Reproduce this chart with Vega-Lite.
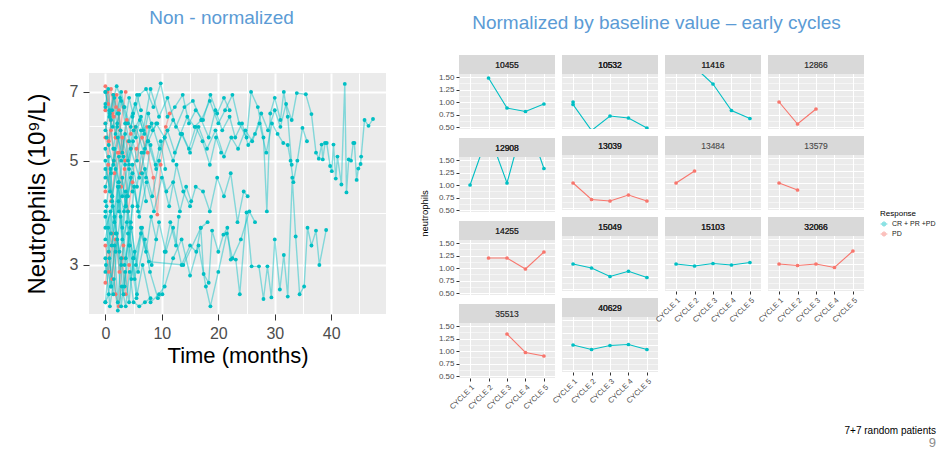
{
  "$schema": "https://vega.github.io/schema/vega-lite/v6.json",
  "background": "white",
  "padding": {"left": 25, "top": 8, "right": 5, "bottom": 0},
  "title": {
    "text": "7+7 random patients",
    "subtitle": "9\u00a0\u00a0\u00a0\u00a0",
    "orient": "bottom",
    "anchor": "end",
    "fontSize": 10,
    "fontWeight": "normal",
    "color": "black",
    "subtitleFontSize": 13,
    "subtitleColor": "#8C8C8C",
    "subtitlePadding": 1,
    "offset": 16
  },
  "datasets": {
    "raw": [
      {"pid":"R1","resp":"PD","month":0,"neut":7.2},{"pid":"R1","resp":"PD","month":0.5,"neut":6.6},{"pid":"R1","resp":"PD","month":1,"neut":7.1},{"pid":"R1","resp":"PD","month":1.5,"neut":6.2},{"pid":"R1","resp":"PD","month":2,"neut":6.9},{"pid":"R1","resp":"PD","month":2.6,"neut":5.8},{"pid":"R1","resp":"PD","month":3.2,"neut":6.5},{"pid":"R1","resp":"PD","month":3.6,"neut":7.0},
      {"pid":"R2","resp":"PD","month":0,"neut":5.6},{"pid":"R2","resp":"PD","month":0.5,"neut":5.1},{"pid":"R2","resp":"PD","month":1,"neut":5.8},{"pid":"R2","resp":"PD","month":1.5,"neut":5.0},{"pid":"R2","resp":"PD","month":2,"neut":5.6},{"pid":"R2","resp":"PD","month":2.5,"neut":5.2},{"pid":"R2","resp":"PD","month":3,"neut":5.6},{"pid":"R2","resp":"PD","month":3.5,"neut":5.0},{"pid":"R2","resp":"PD","month":4,"neut":5.5},{"pid":"R2","resp":"PD","month":4.5,"neut":5.3},
      {"pid":"R3","resp":"PD","month":0,"neut":3.3},{"pid":"R3","resp":"PD","month":0.6,"neut":2.9},{"pid":"R3","resp":"PD","month":1.2,"neut":3.5},{"pid":"R3","resp":"PD","month":1.8,"neut":2.6},{"pid":"R3","resp":"PD","month":2.4,"neut":2.45},{"pid":"R3","resp":"PD","month":3,"neut":3.1},{"pid":"R3","resp":"PD","month":3.6,"neut":2.6},{"pid":"R3","resp":"PD","month":4.2,"neut":3.0},
      {"pid":"R4","resp":"PD","month":0,"neut":4.3},{"pid":"R4","resp":"PD","month":0.5,"neut":4.9},{"pid":"R4","resp":"PD","month":1,"neut":4.1},{"pid":"R4","resp":"PD","month":1.6,"neut":4.7},{"pid":"R4","resp":"PD","month":2.2,"neut":5.2},{"pid":"R4","resp":"PD","month":2.8,"neut":4.4},{"pid":"R4","resp":"PD","month":3.4,"neut":4.8},{"pid":"R4","resp":"PD","month":4,"neut":3.9},{"pid":"R4","resp":"PD","month":4.8,"neut":4.5},{"pid":"R4","resp":"PD","month":5.5,"neut":5.3},{"pid":"R4","resp":"PD","month":6.5,"neut":5.6},{"pid":"R4","resp":"PD","month":7.5,"neut":5.2},{"pid":"R4","resp":"PD","month":8.5,"neut":4.6},{"pid":"R4","resp":"PD","month":9.2,"neut":3.84},{"pid":"R4","resp":"PD","month":9.8,"neut":4.9},{"pid":"R4","resp":"PD","month":10.7,"neut":5.9},{"pid":"R4","resp":"PD","month":11.4,"neut":6.3},
      {"pid":"R5","resp":"PD","month":0,"neut":6.0},{"pid":"R5","resp":"PD","month":0.6,"neut":5.5},{"pid":"R5","resp":"PD","month":1.2,"neut":6.3},{"pid":"R5","resp":"PD","month":1.8,"neut":5.6},{"pid":"R5","resp":"PD","month":2.4,"neut":6.4},{"pid":"R5","resp":"PD","month":3,"neut":5.2},{"pid":"R5","resp":"PD","month":3.8,"neut":6.1},{"pid":"R5","resp":"PD","month":4.5,"neut":5.7},{"pid":"R5","resp":"PD","month":5.3,"neut":5.9},{"pid":"R5","resp":"PD","month":6.3,"neut":4.7},{"pid":"R5","resp":"PD","month":7.4,"neut":5.9},
      {"pid":"R6","resp":"PD","month":0,"neut":2.75},{"pid":"R6","resp":"PD","month":0.6,"neut":3.2},{"pid":"R6","resp":"PD","month":1.2,"neut":2.8},{"pid":"R6","resp":"PD","month":1.8,"neut":3.4},{"pid":"R6","resp":"PD","month":2.5,"neut":2.9},{"pid":"R6","resp":"PD","month":3.2,"neut":3.3},
      {"pid":"R7","resp":"PD","month":0,"neut":6.4},{"pid":"R7","resp":"PD","month":0.4,"neut":7.0},{"pid":"R7","resp":"PD","month":0.9,"neut":6.1},{"pid":"R7","resp":"PD","month":1.4,"neut":6.9},{"pid":"R7","resp":"PD","month":1.9,"neut":6.5},

      {"pid":"P1","resp":"CR + PR +PD","month":0,"neut":5.3},{"pid":"P1","resp":"CR + PR +PD","month":1,"neut":4.7},{"pid":"P1","resp":"CR + PR +PD","month":2.2,"neut":5.6},{"pid":"P1","resp":"CR + PR +PD","month":3.5,"neut":4.9},{"pid":"P1","resp":"CR + PR +PD","month":5,"neut":5.8},{"pid":"P1","resp":"CR + PR +PD","month":6.3,"neut":6.2},{"pid":"P1","resp":"CR + PR +PD","month":7.6,"neut":5.5},{"pid":"P1","resp":"CR + PR +PD","month":9,"neut":6.0},{"pid":"P1","resp":"CR + PR +PD","month":10.5,"neut":5.6},{"pid":"P1","resp":"CR + PR +PD","month":12,"neut":6.1},{"pid":"P1","resp":"CR + PR +PD","month":13.3,"neut":5.7},{"pid":"P1","resp":"CR + PR +PD","month":14.5,"neut":6.2},{"pid":"P1","resp":"CR + PR +PD","month":15.8,"neut":5.9},{"pid":"P1","resp":"CR + PR +PD","month":17,"neut":6.1},{"pid":"P1","resp":"CR + PR +PD","month":18.3,"neut":5.6},{"pid":"P1","resp":"CR + PR +PD","month":19.5,"neut":6.4},{"pid":"P1","resp":"CR + PR +PD","month":20.7,"neut":5.8},{"pid":"P1","resp":"CR + PR +PD","month":22,"neut":6.2},{"pid":"P1","resp":"CR + PR +PD","month":23,"neut":5.6},{"pid":"P1","resp":"CR + PR +PD","month":24.2,"neut":6.0},{"pid":"P1","resp":"CR + PR +PD","month":25.3,"neut":5.4},{"pid":"P1","resp":"CR + PR +PD","month":26.5,"neut":5.7},{"pid":"P1","resp":"CR + PR +PD","month":27.6,"neut":6.3},{"pid":"P1","resp":"CR + PR +PD","month":28.8,"neut":5.8},{"pid":"P1","resp":"CR + PR +PD","month":30,"neut":6.4},{"pid":"P1","resp":"CR + PR +PD","month":31,"neut":5.9},{"pid":"P1","resp":"CR + PR +PD","month":32,"neut":6.6},{"pid":"P1","resp":"CR + PR +PD","month":33,"neut":6.1},{"pid":"P1","resp":"CR + PR +PD","month":33.9,"neut":6.96},{"pid":"P1","resp":"CR + PR +PD","month":35.5,"neut":6.92},{"pid":"P1","resp":"CR + PR +PD","month":36.5,"neut":6.28},{"pid":"P1","resp":"CR + PR +PD","month":37.3,"neut":5.2},{"pid":"P1","resp":"CR + PR +PD","month":37.8,"neut":5.05},{"pid":"P1","resp":"CR + PR +PD","month":38.3,"neut":5.41},{"pid":"P1","resp":"CR + PR +PD","month":38.5,"neut":5.03},{"pid":"P1","resp":"CR + PR +PD","month":38.9,"neut":5.45},{"pid":"P1","resp":"CR + PR +PD","month":39.2,"neut":5.45},{"pid":"P1","resp":"CR + PR +PD","month":39.8,"neut":4.87},{"pid":"P1","resp":"CR + PR +PD","month":40.1,"neut":4.75},{"pid":"P1","resp":"CR + PR +PD","month":40.4,"neut":5.41},{"pid":"P1","resp":"CR + PR +PD","month":40.8,"neut":4.58},{"pid":"P1","resp":"CR + PR +PD","month":41.1,"neut":5.1},{"pid":"P1","resp":"CR + PR +PD","month":41.8,"neut":4.45},{"pid":"P1","resp":"CR + PR +PD","month":42.4,"neut":7.28},{"pid":"P1","resp":"CR + PR +PD","month":42.7,"neut":4.28},{"pid":"P1","resp":"CR + PR +PD","month":43.1,"neut":5.03},{"pid":"P1","resp":"CR + PR +PD","month":43.5,"neut":5.0},{"pid":"P1","resp":"CR + PR +PD","month":43.9,"neut":5.45},{"pid":"P1","resp":"CR + PR +PD","month":44.1,"neut":5.45},{"pid":"P1","resp":"CR + PR +PD","month":44.5,"neut":4.55},{"pid":"P1","resp":"CR + PR +PD","month":44.8,"neut":4.81},{"pid":"P1","resp":"CR + PR +PD","month":45.2,"neut":4.92},{"pid":"P1","resp":"CR + PR +PD","month":45.3,"neut":5.1},{"pid":"P1","resp":"CR + PR +PD","month":45.9,"neut":6.1},{"pid":"P1","resp":"CR + PR +PD","month":46.6,"neut":5.93},{"pid":"P1","resp":"CR + PR +PD","month":47.4,"neut":6.13},

      {"pid":"P2","resp":"CR + PR +PD","month":0,"neut":3.9},{"pid":"P2","resp":"CR + PR +PD","month":1.1,"neut":3.3},{"pid":"P2","resp":"CR + PR +PD","month":2.3,"neut":4.1},{"pid":"P2","resp":"CR + PR +PD","month":3.4,"neut":3.0},{"pid":"P2","resp":"CR + PR +PD","month":4.6,"neut":3.6},{"pid":"P2","resp":"CR + PR +PD","month":5.8,"neut":2.9},{"pid":"P2","resp":"CR + PR +PD","month":7,"neut":3.4},{"pid":"P2","resp":"CR + PR +PD","month":8.2,"neut":3.0},{"pid":"P2","resp":"CR + PR +PD","month":9.5,"neut":3.7},{"pid":"P2","resp":"CR + PR +PD","month":10.7,"neut":3.2},{"pid":"P2","resp":"CR + PR +PD","month":12,"neut":3.6},{"pid":"P2","resp":"CR + PR +PD","month":13.5,"neut":3.0},{"pid":"P2","resp":"CR + PR +PD","month":15,"neut":3.3},{"pid":"P2","resp":"CR + PR +PD","month":16.1,"neut":3.2},{"pid":"P2","resp":"CR + PR +PD","month":16.9,"neut":3.6},{"pid":"P2","resp":"CR + PR +PD","month":17.4,"neut":2.87},{"pid":"P2","resp":"CR + PR +PD","month":18.3,"neut":2.75},{"pid":"P2","resp":"CR + PR +PD","month":18.9,"neut":3.55},{"pid":"P2","resp":"CR + PR +PD","month":20,"neut":3.2},{"pid":"P2","resp":"CR + PR +PD","month":20.9,"neut":3.48},{"pid":"P2","resp":"CR + PR +PD","month":21.6,"neut":3.6},{"pid":"P2","resp":"CR + PR +PD","month":22.2,"neut":3.08},{"pid":"P2","resp":"CR + PR +PD","month":23.1,"neut":3.08},{"pid":"P2","resp":"CR + PR +PD","month":23.8,"neut":2.6},{"pid":"P2","resp":"CR + PR +PD","month":25,"neut":3.88},{"pid":"P2","resp":"CR + PR +PD","month":25.9,"neut":2.98},{"pid":"P2","resp":"CR + PR +PD","month":27.2,"neut":2.98},{"pid":"P2","resp":"CR + PR +PD","month":28,"neut":2.54},{"pid":"P2","resp":"CR + PR +PD","month":28.7,"neut":2.98},{"pid":"P2","resp":"CR + PR +PD","month":29.4,"neut":2.56},{"pid":"P2","resp":"CR + PR +PD","month":30,"neut":3.4},{"pid":"P2","resp":"CR + PR +PD","month":30.9,"neut":2.66},{"pid":"P2","resp":"CR + PR +PD","month":31.6,"neut":3.15},{"pid":"P2","resp":"CR + PR +PD","month":32.3,"neut":2.57},{"pid":"P2","resp":"CR + PR +PD","month":33.1,"neut":4.6},{"pid":"P2","resp":"CR + PR +PD","month":33.7,"neut":3.45},{"pid":"P2","resp":"CR + PR +PD","month":34.4,"neut":2.6},{"pid":"P2","resp":"CR + PR +PD","month":35.2,"neut":2.7},{"pid":"P2","resp":"CR + PR +PD","month":35.8,"neut":3.6},{"pid":"P2","resp":"CR + PR +PD","month":36.5,"neut":3.3},{"pid":"P2","resp":"CR + PR +PD","month":37.3,"neut":3.55},{"pid":"P2","resp":"CR + PR +PD","month":37.9,"neut":3.0},{"pid":"P2","resp":"CR + PR +PD","month":39.1,"neut":3.56},

      {"pid":"P3","resp":"CR + PR +PD","month":0,"neut":4.4},{"pid":"P3","resp":"CR + PR +PD","month":1.5,"neut":5.0},{"pid":"P3","resp":"CR + PR +PD","month":3,"neut":4.2},{"pid":"P3","resp":"CR + PR +PD","month":4.5,"neut":5.3},{"pid":"P3","resp":"CR + PR +PD","month":6,"neut":4.6},{"pid":"P3","resp":"CR + PR +PD","month":7.5,"neut":5.5},{"pid":"P3","resp":"CR + PR +PD","month":9,"neut":4.8},{"pid":"P3","resp":"CR + PR +PD","month":10.5,"neut":5.6},{"pid":"P3","resp":"CR + PR +PD","month":12,"neut":5.0},{"pid":"P3","resp":"CR + PR +PD","month":13.5,"neut":5.7},{"pid":"P3","resp":"CR + PR +PD","month":15,"neut":5.2},{"pid":"P3","resp":"CR + PR +PD","month":16.5,"neut":5.9},{"pid":"P3","resp":"CR + PR +PD","month":18,"neut":5.3},{"pid":"P3","resp":"CR + PR +PD","month":19.5,"neut":5.8},{"pid":"P3","resp":"CR + PR +PD","month":21,"neut":5.1},{"pid":"P3","resp":"CR + PR +PD","month":22.3,"neut":5.6},{"pid":"P3","resp":"CR + PR +PD","month":23.5,"neut":5.3},{"pid":"P3","resp":"CR + PR +PD","month":24.8,"neut":5.8},{"pid":"P3","resp":"CR + PR +PD","month":26,"neut":5.5},{"pid":"P3","resp":"CR + PR +PD","month":27.3,"neut":6.0},{"pid":"P3","resp":"CR + PR +PD","month":28.5,"neut":5.2},{"pid":"P3","resp":"CR + PR +PD","month":29.5,"neut":6.0},{"pid":"P3","resp":"CR + PR +PD","month":30.5,"neut":5.7},{"pid":"P3","resp":"CR + PR +PD","month":31.5,"neut":5.45},{"pid":"P3","resp":"CR + PR +PD","month":32.3,"neut":5.4},{"pid":"P3","resp":"CR + PR +PD","month":32.8,"neut":5.0},{"pid":"P3","resp":"CR + PR +PD","month":33.3,"neut":4.5},{"pid":"P3","resp":"CR + PR +PD","month":34,"neut":5.0},{"pid":"P3","resp":"CR + PR +PD","month":34.9,"neut":5.87},{"pid":"P3","resp":"CR + PR +PD","month":35.7,"neut":5.5},

      {"pid":"P4","resp":"CR + PR +PD","month":0,"neut":6.5},{"pid":"P4","resp":"CR + PR +PD","month":1.3,"neut":5.9},{"pid":"P4","resp":"CR + PR +PD","month":2.6,"neut":6.8},{"pid":"P4","resp":"CR + PR +PD","month":4,"neut":6.0},{"pid":"P4","resp":"CR + PR +PD","month":5.3,"neut":6.6},{"pid":"P4","resp":"CR + PR +PD","month":6.7,"neut":5.8},{"pid":"P4","resp":"CR + PR +PD","month":8,"neut":7.1},{"pid":"P4","resp":"CR + PR +PD","month":9.5,"neut":6.2},{"pid":"P4","resp":"CR + PR +PD","month":11,"neut":6.8},{"pid":"P4","resp":"CR + PR +PD","month":12.5,"neut":5.9},{"pid":"P4","resp":"CR + PR +PD","month":14,"neut":6.5},{"pid":"P4","resp":"CR + PR +PD","month":15.5,"neut":6.7},{"pid":"P4","resp":"CR + PR +PD","month":17,"neut":6.1},{"pid":"P4","resp":"CR + PR +PD","month":18.5,"neut":6.7},{"pid":"P4","resp":"CR + PR +PD","month":20,"neut":6.0},{"pid":"P4","resp":"CR + PR +PD","month":21.2,"neut":6.4},{"pid":"P4","resp":"CR + PR +PD","month":22.5,"neut":6.9},{"pid":"P4","resp":"CR + PR +PD","month":23.7,"neut":6.0},{"pid":"P4","resp":"CR + PR +PD","month":25,"neut":5.6},{"pid":"P4","resp":"CR + PR +PD","month":25.8,"neut":7.0},{"pid":"P4","resp":"CR + PR +PD","month":27,"neut":6.5},{"pid":"P4","resp":"CR + PR +PD","month":28,"neut":5.6},{"pid":"P4","resp":"CR + PR +PD","month":28.6,"neut":3.9},{"pid":"P4","resp":"CR + PR +PD","month":29.2,"neut":6.3},{"pid":"P4","resp":"CR + PR +PD","month":30,"neut":6.8},{"pid":"P4","resp":"CR + PR +PD","month":31,"neut":6.1},{"pid":"P4","resp":"CR + PR +PD","month":31.6,"neut":7.0},{"pid":"P4","resp":"CR + PR +PD","month":32.3,"neut":6.2},{"pid":"P4","resp":"CR + PR +PD","month":33,"neut":4.9},

      {"pid":"P5","resp":"CR + PR +PD","month":0,"neut":3.1},{"pid":"P5","resp":"CR + PR +PD","month":1,"neut":2.7},{"pid":"P5","resp":"CR + PR +PD","month":2,"neut":3.5},{"pid":"P5","resp":"CR + PR +PD","month":3.2,"neut":2.6},{"pid":"P5","resp":"CR + PR +PD","month":4.3,"neut":3.3},{"pid":"P5","resp":"CR + PR +PD","month":5.5,"neut":2.55},{"pid":"P5","resp":"CR + PR +PD","month":6.6,"neut":3.0},{"pid":"P5","resp":"CR + PR +PD","month":8,"neut":2.5},{"pid":"P5","resp":"CR + PR +PD","month":9.5,"neut":2.6},{"pid":"P5","resp":"CR + PR +PD","month":10.5,"neut":2.7},{"pid":"P5","resp":"CR + PR +PD","month":12,"neut":3.1},{"pid":"P5","resp":"CR + PR +PD","month":13.5,"neut":3.4},{"pid":"P5","resp":"CR + PR +PD","month":15,"neut":2.85},{"pid":"P5","resp":"CR + PR +PD","month":16.5,"neut":3.3},{"pid":"P5","resp":"CR + PR +PD","month":17.8,"neut":2.7},{"pid":"P5","resp":"CR + PR +PD","month":18.6,"neut":2.45},{"pid":"P5","resp":"CR + PR +PD","month":20,"neut":2.9},{"pid":"P5","resp":"CR + PR +PD","month":21.5,"neut":3.5},{"pid":"P5","resp":"CR + PR +PD","month":22.5,"neut":3.1},{"pid":"P5","resp":"CR + PR +PD","month":24,"neut":3.4},{"pid":"P5","resp":"CR + PR +PD","month":25.5,"neut":3.9},{"pid":"P5","resp":"CR + PR +PD","month":26.5,"neut":3.7},

      {"pid":"P6","resp":"CR + PR +PD","month":0,"neut":4.8},{"pid":"P6","resp":"CR + PR +PD","month":1.2,"neut":4.2},{"pid":"P6","resp":"CR + PR +PD","month":2.4,"neut":5.1},{"pid":"P6","resp":"CR + PR +PD","month":3.6,"neut":4.0},{"pid":"P6","resp":"CR + PR +PD","month":4.8,"neut":4.7},{"pid":"P6","resp":"CR + PR +PD","month":6,"neut":3.8},{"pid":"P6","resp":"CR + PR +PD","month":7.3,"neut":4.5},{"pid":"P6","resp":"CR + PR +PD","month":8.6,"neut":3.9},{"pid":"P6","resp":"CR + PR +PD","month":10,"neut":4.6},{"pid":"P6","resp":"CR + PR +PD","month":11.3,"neut":4.0},{"pid":"P6","resp":"CR + PR +PD","month":12.6,"neut":4.9},{"pid":"P6","resp":"CR + PR +PD","month":13.8,"neut":4.3},{"pid":"P6","resp":"CR + PR +PD","month":15,"neut":4.0},{"pid":"P6","resp":"CR + PR +PD","month":16,"neut":4.4},{"pid":"P6","resp":"CR + PR +PD","month":17.3,"neut":4.3},{"pid":"P6","resp":"CR + PR +PD","month":18.5,"neut":3.9},{"pid":"P6","resp":"CR + PR +PD","month":19.8,"neut":4.6},{"pid":"P6","resp":"CR + PR +PD","month":21,"neut":4.2},{"pid":"P6","resp":"CR + PR +PD","month":22.2,"neut":4.7},{"pid":"P6","resp":"CR + PR +PD","month":23.4,"neut":3.7},{"pid":"P6","resp":"CR + PR +PD","month":24.5,"neut":4.3},{"pid":"P6","resp":"CR + PR +PD","month":25.2,"neut":4.2},

      {"pid":"P7","resp":"CR + PR +PD","month":0,"neut":7.0},{"pid":"P7","resp":"CR + PR +PD","month":0.8,"neut":6.3},{"pid":"P7","resp":"CR + PR +PD","month":2,"neut":7.2},{"pid":"P7","resp":"CR + PR +PD","month":3.3,"neut":6.5},{"pid":"P7","resp":"CR + PR +PD","month":4.5,"neut":5.9},{"pid":"P7","resp":"CR + PR +PD","month":6,"neut":6.9},{"pid":"P7","resp":"CR + PR +PD","month":7.2,"neut":7.1},{"pid":"P7","resp":"CR + PR +PD","month":8.5,"neut":6.5},{"pid":"P7","resp":"CR + PR +PD","month":9.8,"neut":7.3},{"pid":"P7","resp":"CR + PR +PD","month":11,"neut":6.2},{"pid":"P7","resp":"CR + PR +PD","month":12.3,"neut":6.5},{"pid":"P7","resp":"CR + PR +PD","month":13.7,"neut":6.9},{"pid":"P7","resp":"CR + PR +PD","month":14.8,"neut":6.0},{"pid":"P7","resp":"CR + PR +PD","month":16,"neut":6.4},{"pid":"P7","resp":"CR + PR +PD","month":17.3,"neut":6.1},{"pid":"P7","resp":"CR + PR +PD","month":18.6,"neut":6.9},{"pid":"P7","resp":"CR + PR +PD","month":19.8,"neut":6.3},{"pid":"P7","resp":"CR + PR +PD","month":21,"neut":6.8},{"pid":"P7","resp":"CR + PR +PD","month":22,"neut":6.4},

      {"pid":"P8","resp":"CR + PR +PD","month":0.2,"neut":5.6},{"pid":"P8","resp":"CR + PR +PD","month":1.4,"neut":4.9},{"pid":"P8","resp":"CR + PR +PD","month":2.7,"neut":5.8},{"pid":"P8","resp":"CR + PR +PD","month":4,"neut":5.0},{"pid":"P8","resp":"CR + PR +PD","month":5.4,"neut":5.9},{"pid":"P8","resp":"CR + PR +PD","month":6.8,"neut":5.2},{"pid":"P8","resp":"CR + PR +PD","month":8.2,"neut":6.0},{"pid":"P8","resp":"CR + PR +PD","month":9.6,"neut":5.3},{"pid":"P8","resp":"CR + PR +PD","month":11,"neut":5.8},{"pid":"P8","resp":"CR + PR +PD","month":12.3,"neut":5.2},{"pid":"P8","resp":"CR + PR +PD","month":13.6,"neut":5.7},{"pid":"P8","resp":"CR + PR +PD","month":14.8,"neut":5.3},{"pid":"P8","resp":"CR + PR +PD","month":16,"neut":5.9},{"pid":"P8","resp":"CR + PR +PD","month":17.2,"neut":5.5},{"pid":"P8","resp":"CR + PR +PD","month":18.5,"neut":4.9},{"pid":"P8","resp":"CR + PR +PD","month":19.6,"neut":5.6},{"pid":"P8","resp":"CR + PR +PD","month":20.5,"neut":5.2},

      {"pid":"P9","resp":"CR + PR +PD","month":0,"neut":3.6},{"pid":"P9","resp":"CR + PR +PD","month":1.3,"neut":4.0},{"pid":"P9","resp":"CR + PR +PD","month":2.5,"neut":3.2},{"pid":"P9","resp":"CR + PR +PD","month":3.8,"neut":3.7},{"pid":"P9","resp":"CR + PR +PD","month":5,"neut":3.1},{"pid":"P9","resp":"CR + PR +PD","month":6.3,"neut":3.5},{"pid":"P9","resp":"CR + PR +PD","month":7.7,"neut":3.05},{"pid":"P9","resp":"CR + PR +PD","month":13.8,"neut":3.0},{"pid":"P9","resp":"CR + PR +PD","month":16.9,"neut":3.6},{"pid":"P9","resp":"CR + PR +PD","month":18.1,"neut":3.7},

      {"pid":"P10","resp":"CR + PR +PD","month":0,"neut":4.1},{"pid":"P10","resp":"CR + PR +PD","month":1,"neut":3.5},{"pid":"P10","resp":"CR + PR +PD","month":2.2,"neut":4.4},{"pid":"P10","resp":"CR + PR +PD","month":3.3,"neut":3.9},{"pid":"P10","resp":"CR + PR +PD","month":4.5,"neut":4.6},{"pid":"P10","resp":"CR + PR +PD","month":5.7,"neut":4.0},{"pid":"P10","resp":"CR + PR +PD","month":7,"neut":4.8},{"pid":"P10","resp":"CR + PR +PD","month":8.3,"neut":4.2},{"pid":"P10","resp":"CR + PR +PD","month":9.5,"neut":5.0},{"pid":"P10","resp":"CR + PR +PD","month":10.8,"neut":4.3},{"pid":"P10","resp":"CR + PR +PD","month":12,"neut":4.5},{"pid":"P10","resp":"CR + PR +PD","month":13.2,"neut":3.9},{"pid":"P10","resp":"CR + PR +PD","month":14.3,"neut":4.4},{"pid":"P10","resp":"CR + PR +PD","month":15.2,"neut":4.1},

      {"pid":"P11","resp":"CR + PR +PD","month":0,"neut":2.5},{"pid":"P11","resp":"CR + PR +PD","month":0.6,"neut":2.6},{"pid":"P11","resp":"CR + PR +PD","month":1.6,"neut":3.8},{"pid":"P11","resp":"CR + PR +PD","month":2.8,"neut":3.0},{"pid":"P11","resp":"CR + PR +PD","month":4,"neut":3.9},{"pid":"P11","resp":"CR + PR +PD","month":5.2,"neut":2.8},{"pid":"P11","resp":"CR + PR +PD","month":6.5,"neut":3.6},{"pid":"P11","resp":"CR + PR +PD","month":7.9,"neut":2.9},{"pid":"P11","resp":"CR + PR +PD","month":9.3,"neut":2.55},{"pid":"P11","resp":"CR + PR +PD","month":10.1,"neut":2.6},{"pid":"P11","resp":"CR + PR +PD","month":10.5,"neut":3.2},{"pid":"P11","resp":"CR + PR +PD","month":11.5,"neut":3.7},{"pid":"P11","resp":"CR + PR +PD","month":12.5,"neut":3.3},{"pid":"P11","resp":"CR + PR +PD","month":13,"neut":3.8},

      {"pid":"S1","resp":"CR + PR +PD","month":0,"neut":7.0},{"pid":"S1","resp":"CR + PR +PD","month":0.7,"neut":6.2},{"pid":"S1","resp":"CR + PR +PD","month":1.4,"neut":6.9},{"pid":"S1","resp":"CR + PR +PD","month":2.1,"neut":5.9},{"pid":"S1","resp":"CR + PR +PD","month":2.8,"neut":6.7},{"pid":"S1","resp":"CR + PR +PD","month":3.5,"neut":6.0},{"pid":"S1","resp":"CR + PR +PD","month":4.2,"neut":6.8},{"pid":"S1","resp":"CR + PR +PD","month":4.9,"neut":6.3},{"pid":"S1","resp":"CR + PR +PD","month":5.6,"neut":6.9},{"pid":"S1","resp":"CR + PR +PD","month":6.3,"neut":6.4},
      {"pid":"S2","resp":"CR + PR +PD","month":0,"neut":2.5},{"pid":"S2","resp":"CR + PR +PD","month":0.7,"neut":3.1},{"pid":"S2","resp":"CR + PR +PD","month":1.4,"neut":2.6},{"pid":"S2","resp":"CR + PR +PD","month":2.1,"neut":3.4},{"pid":"S2","resp":"CR + PR +PD","month":2.8,"neut":2.45},{"pid":"S2","resp":"CR + PR +PD","month":3.5,"neut":2.9},{"pid":"S2","resp":"CR + PR +PD","month":4.2,"neut":2.5},{"pid":"S2","resp":"CR + PR +PD","month":4.9,"neut":3.1},{"pid":"S2","resp":"CR + PR +PD","month":5.6,"neut":2.6},
      {"pid":"S3","resp":"CR + PR +PD","month":0.2,"neut":4.0},{"pid":"S3","resp":"CR + PR +PD","month":0.9,"neut":4.8},{"pid":"S3","resp":"CR + PR +PD","month":1.6,"neut":3.7},{"pid":"S3","resp":"CR + PR +PD","month":2.3,"neut":4.5},{"pid":"S3","resp":"CR + PR +PD","month":3,"neut":3.4},{"pid":"S3","resp":"CR + PR +PD","month":3.7,"neut":4.2},{"pid":"S3","resp":"CR + PR +PD","month":4.4,"neut":3.6},{"pid":"S3","resp":"CR + PR +PD","month":5.1,"neut":4.4},{"pid":"S3","resp":"CR + PR +PD","month":5.8,"neut":3.9},{"pid":"S3","resp":"CR + PR +PD","month":6.5,"neut":4.7},{"pid":"S3","resp":"CR + PR +PD","month":7.2,"neut":4.1},
      {"pid":"S4","resp":"CR + PR +PD","month":0,"neut":6.0},{"pid":"S4","resp":"CR + PR +PD","month":0.6,"neut":5.4},{"pid":"S4","resp":"CR + PR +PD","month":1.2,"neut":6.4},{"pid":"S4","resp":"CR + PR +PD","month":1.8,"neut":5.7},{"pid":"S4","resp":"CR + PR +PD","month":2.4,"neut":6.3},{"pid":"S4","resp":"CR + PR +PD","month":3,"neut":5.2},{"pid":"S4","resp":"CR + PR +PD","month":3.6,"neut":6.0},{"pid":"S4","resp":"CR + PR +PD","month":4.2,"neut":5.5},{"pid":"S4","resp":"CR + PR +PD","month":4.8,"neut":6.2},{"pid":"S4","resp":"CR + PR +PD","month":5.4,"neut":5.6},{"pid":"S4","resp":"CR + PR +PD","month":6.1,"neut":6.1},{"pid":"S4","resp":"CR + PR +PD","month":6.9,"neut":5.7},{"pid":"S4","resp":"CR + PR +PD","month":7.6,"neut":6.3},{"pid":"S4","resp":"CR + PR +PD","month":8.4,"neut":5.8},{"pid":"S4","resp":"CR + PR +PD","month":9.2,"neut":6.0},
      {"pid":"S5","resp":"CR + PR +PD","month":0,"neut":2.9},{"pid":"S5","resp":"CR + PR +PD","month":0.5,"neut":3.6},{"pid":"S5","resp":"CR + PR +PD","month":1,"neut":2.7},{"pid":"S5","resp":"CR + PR +PD","month":1.6,"neut":3.3},{"pid":"S5","resp":"CR + PR +PD","month":2.2,"neut":2.5},{"pid":"S5","resp":"CR + PR +PD","month":2.8,"neut":3.1},{"pid":"S5","resp":"CR + PR +PD","month":3.4,"neut":2.7},{"pid":"S5","resp":"CR + PR +PD","month":4,"neut":3.5},{"pid":"S5","resp":"CR + PR +PD","month":4.6,"neut":2.8},{"pid":"S5","resp":"CR + PR +PD","month":5.2,"neut":3.2},
      {"pid":"S6","resp":"CR + PR +PD","month":0,"neut":5.0},{"pid":"S6","resp":"CR + PR +PD","month":0.8,"neut":4.3},{"pid":"S6","resp":"CR + PR +PD","month":1.6,"neut":5.3},{"pid":"S6","resp":"CR + PR +PD","month":2.4,"neut":4.5},{"pid":"S6","resp":"CR + PR +PD","month":3.2,"neut":5.1},{"pid":"S6","resp":"CR + PR +PD","month":4,"neut":4.2},{"pid":"S6","resp":"CR + PR +PD","month":4.8,"neut":4.9},{"pid":"S6","resp":"CR + PR +PD","month":5.6,"neut":4.4},{"pid":"S6","resp":"CR + PR +PD","month":6.4,"neut":5.2},{"pid":"S6","resp":"CR + PR +PD","month":7.2,"neut":4.6},{"pid":"S6","resp":"CR + PR +PD","month":8,"neut":5.4},{"pid":"S6","resp":"CR + PR +PD","month":8.9,"neut":4.9},{"pid":"S6","resp":"CR + PR +PD","month":9.8,"neut":5.5},{"pid":"S6","resp":"CR + PR +PD","month":10.6,"neut":4.8},
      {"pid":"S7","resp":"CR + PR +PD","month":0,"neut":3.4},{"pid":"S7","resp":"CR + PR +PD","month":0.9,"neut":3.9},{"pid":"S7","resp":"CR + PR +PD","month":1.8,"neut":3.2},{"pid":"S7","resp":"CR + PR +PD","month":2.7,"neut":3.8},{"pid":"S7","resp":"CR + PR +PD","month":3.6,"neut":3.1},{"pid":"S7","resp":"CR + PR +PD","month":4.5,"neut":3.7},{"pid":"S7","resp":"CR + PR +PD","month":5.4,"neut":3.0},{"pid":"S7","resp":"CR + PR +PD","month":6.3,"neut":3.6},{"pid":"S7","resp":"CR + PR +PD","month":7.2,"neut":3.2},{"pid":"S7","resp":"CR + PR +PD","month":8.1,"neut":3.8},{"pid":"S7","resp":"CR + PR +PD","month":9,"neut":3.4},
      {"pid":"S8","resp":"CR + PR +PD","month":0,"neut":6.6},{"pid":"S8","resp":"CR + PR +PD","month":0.5,"neut":7.1},{"pid":"S8","resp":"CR + PR +PD","month":1,"neut":6.1},{"pid":"S8","resp":"CR + PR +PD","month":1.6,"neut":6.8},{"pid":"S8","resp":"CR + PR +PD","month":2.2,"neut":6.3},{"pid":"S8","resp":"CR + PR +PD","month":2.8,"neut":7.0},{"pid":"S8","resp":"CR + PR +PD","month":3.4,"neut":6.5},
      {"pid":"S9","resp":"CR + PR +PD","month":0,"neut":4.6},{"pid":"S9","resp":"CR + PR +PD","month":0.6,"neut":5.1},{"pid":"S9","resp":"CR + PR +PD","month":1.2,"neut":4.1},{"pid":"S9","resp":"CR + PR +PD","month":1.8,"neut":4.8},{"pid":"S9","resp":"CR + PR +PD","month":2.4,"neut":3.9},{"pid":"S9","resp":"CR + PR +PD","month":3,"neut":4.6},{"pid":"S9","resp":"CR + PR +PD","month":3.6,"neut":4.0},{"pid":"S9","resp":"CR + PR +PD","month":4.2,"neut":4.8},{"pid":"S9","resp":"CR + PR +PD","month":4.8,"neut":4.3},
      {"pid":"S10","resp":"CR + PR +PD","month":0.1,"neut":3.0},{"pid":"S10","resp":"CR + PR +PD","month":0.8,"neut":2.45},{"pid":"S10","resp":"CR + PR +PD","month":1.5,"neut":2.8},{"pid":"S10","resp":"CR + PR +PD","month":2.2,"neut":2.4},{"pid":"S10","resp":"CR + PR +PD","month":2.9,"neut":2.7},{"pid":"S10","resp":"CR + PR +PD","month":3.6,"neut":2.45},{"pid":"S10","resp":"CR + PR +PD","month":4.3,"neut":2.9},{"pid":"S10","resp":"CR + PR +PD","month":5,"neut":2.5},{"pid":"S10","resp":"CR + PR +PD","month":6,"neut":2.45},{"pid":"S10","resp":"CR + PR +PD","month":7,"neut":2.5},{"pid":"S10","resp":"CR + PR +PD","month":8,"neut":2.55},
      {"pid":"S11","resp":"CR + PR +PD","month":0,"neut":5.8},{"pid":"S11","resp":"CR + PR +PD","month":0.7,"neut":6.4},{"pid":"S11","resp":"CR + PR +PD","month":1.4,"neut":5.3},{"pid":"S11","resp":"CR + PR +PD","month":2.1,"neut":6.0},{"pid":"S11","resp":"CR + PR +PD","month":2.8,"neut":5.0},{"pid":"S11","resp":"CR + PR +PD","month":3.5,"neut":5.7},{"pid":"S11","resp":"CR + PR +PD","month":4.2,"neut":4.9},{"pid":"S11","resp":"CR + PR +PD","month":4.9,"neut":5.5},{"pid":"S11","resp":"CR + PR +PD","month":5.6,"neut":5.0},{"pid":"S11","resp":"CR + PR +PD","month":6.3,"neut":5.8},{"pid":"S11","resp":"CR + PR +PD","month":7,"neut":5.3},{"pid":"S11","resp":"CR + PR +PD","month":7.8,"neut":5.9},
      {"pid":"S12","resp":"CR + PR +PD","month":0,"neut":3.8},{"pid":"S12","resp":"CR + PR +PD","month":0.6,"neut":3.2},{"pid":"S12","resp":"CR + PR +PD","month":1.2,"neut":4.2},{"pid":"S12","resp":"CR + PR +PD","month":1.8,"neut":3.5},{"pid":"S12","resp":"CR + PR +PD","month":2.4,"neut":4.4},{"pid":"S12","resp":"CR + PR +PD","month":3,"neut":3.6},{"pid":"S12","resp":"CR + PR +PD","month":3.6,"neut":4.3},{"pid":"S12","resp":"CR + PR +PD","month":4.2,"neut":3.3},{"pid":"S12","resp":"CR + PR +PD","month":4.8,"neut":4.0}
    ],
    "norm": [
      {"id":"10455","resp":"CR + PR +PD","cycle":"CYCLE 2","value":1.48},{"id":"10455","resp":"CR + PR +PD","cycle":"CYCLE 3","value":0.88},{"id":"10455","resp":"CR + PR +PD","cycle":"CYCLE 4","value":0.81},{"id":"10455","resp":"CR + PR +PD","cycle":"CYCLE 5","value":0.96},
      {"id":"10532","resp":"CR + PR +PD","cycle":"CYCLE 1","value":1.0},{"id":"10532","resp":"CR + PR +PD","cycle":"CYCLE 1","value":0.95},{"id":"10532","resp":"CR + PR +PD","cycle":"CYCLE 2","value":0.43},{"id":"10532","resp":"CR + PR +PD","cycle":"CYCLE 3","value":0.72},{"id":"10532","resp":"CR + PR +PD","cycle":"CYCLE 4","value":0.68},{"id":"10532","resp":"CR + PR +PD","cycle":"CYCLE 5","value":0.48},
      {"id":"11416","resp":"CR + PR +PD","cycle":"CYCLE 2","value":1.70},{"id":"11416","resp":"CR + PR +PD","cycle":"CYCLE 3","value":1.36},{"id":"11416","resp":"CR + PR +PD","cycle":"CYCLE 4","value":0.83},{"id":"11416","resp":"CR + PR +PD","cycle":"CYCLE 5","value":0.67},
      {"id":"12866","resp":"PD","cycle":"CYCLE 1","value":1.0},{"id":"12866","resp":"PD","cycle":"CYCLE 2","value":0.56},{"id":"12866","resp":"PD","cycle":"CYCLE 3","value":0.86},
      {"id":"12908","resp":"CR + PR +PD","cycle":"CYCLE 1","value":1.0},{"id":"12908","resp":"CR + PR +PD","cycle":"CYCLE 2","value":2.05},{"id":"12908","resp":"CR + PR +PD","cycle":"CYCLE 3","value":1.04},{"id":"12908","resp":"CR + PR +PD","cycle":"CYCLE 4","value":2.39},{"id":"12908","resp":"CR + PR +PD","cycle":"CYCLE 5","value":1.33},
      {"id":"13039","resp":"PD","cycle":"CYCLE 1","value":1.0},{"id":"13039","resp":"PD","cycle":"CYCLE 2","value":0.67},{"id":"13039","resp":"PD","cycle":"CYCLE 3","value":0.64},{"id":"13039","resp":"PD","cycle":"CYCLE 4","value":0.76},{"id":"13039","resp":"PD","cycle":"CYCLE 5","value":0.64},
      {"id":"13484","resp":"PD","cycle":"CYCLE 1","value":1.0},{"id":"13484","resp":"PD","cycle":"CYCLE 2","value":1.24},
      {"id":"13579","resp":"PD","cycle":"CYCLE 1","value":1.0},{"id":"13579","resp":"PD","cycle":"CYCLE 2","value":0.86},
      {"id":"14255","resp":"PD","cycle":"CYCLE 2","value":1.2},{"id":"14255","resp":"PD","cycle":"CYCLE 3","value":1.2},{"id":"14255","resp":"PD","cycle":"CYCLE 4","value":0.98},{"id":"14255","resp":"PD","cycle":"CYCLE 5","value":1.32},
      {"id":"15049","resp":"CR + PR +PD","cycle":"CYCLE 1","value":1.0},{"id":"15049","resp":"CR + PR +PD","cycle":"CYCLE 2","value":0.92},{"id":"15049","resp":"CR + PR +PD","cycle":"CYCLE 3","value":0.75},{"id":"15049","resp":"CR + PR +PD","cycle":"CYCLE 4","value":0.855},{"id":"15049","resp":"CR + PR +PD","cycle":"CYCLE 5","value":0.73},
      {"id":"15103","resp":"CR + PR +PD","cycle":"CYCLE 1","value":1.0},{"id":"15103","resp":"CR + PR +PD","cycle":"CYCLE 2","value":0.96},{"id":"15103","resp":"CR + PR +PD","cycle":"CYCLE 3","value":1.01},{"id":"15103","resp":"CR + PR +PD","cycle":"CYCLE 4","value":0.98},{"id":"15103","resp":"CR + PR +PD","cycle":"CYCLE 5","value":1.03},
      {"id":"32066","resp":"PD","cycle":"CYCLE 1","value":1.0},{"id":"32066","resp":"PD","cycle":"CYCLE 2","value":0.97},{"id":"32066","resp":"PD","cycle":"CYCLE 3","value":1.0},{"id":"32066","resp":"PD","cycle":"CYCLE 4","value":0.93},{"id":"32066","resp":"PD","cycle":"CYCLE 5","value":1.26},
      {"id":"35513","resp":"PD","cycle":"CYCLE 3","value":1.34},{"id":"35513","resp":"PD","cycle":"CYCLE 4","value":0.97},{"id":"35513","resp":"PD","cycle":"CYCLE 5","value":0.9},
      {"id":"40629","resp":"CR + PR +PD","cycle":"CYCLE 1","value":1.0},{"id":"40629","resp":"CR + PR +PD","cycle":"CYCLE 2","value":0.91},{"id":"40629","resp":"CR + PR +PD","cycle":"CYCLE 3","value":0.99},{"id":"40629","resp":"CR + PR +PD","cycle":"CYCLE 4","value":1.01},{"id":"40629","resp":"CR + PR +PD","cycle":"CYCLE 5","value":0.91}
    ]
  },
  "spacing": 33,
  "hconcat": [
    {
      "title": {"text": "Non - normalized", "fontSize": 19, "color": "#5B9BD5", "fontWeight": "normal", "offset": 22, "anchor": "middle", "dx": 16},
      "spacing": 12,
      "vconcat": [
        {
          "width": 297,
          "height": 1,
          "view": {"fill": null, "stroke": null},
          "data": {"values": [{}]},
          "mark": {"type": "text"},
          "encoding": {"text": {"value": ""}}
        },
        {
          "data": {"name": "raw"},
          "width": 297,
          "height": 241,
          "encoding": {
            "x": {
              "field": "month", "type": "quantitative",
              "scale": {"domain": [-2.9, 49.7], "nice": false, "zero": false},
              "axis": {
                "title": "Time (months)", "titleFontSize": 22, "titlePadding": 4,
                "labelFontSize": 16, "labelPadding": 5, "tickSize": 6,
                "values": [0, 5, 10, 15, 20, 25, 30, 35, 40, 45],
                "labelExpr": "datum.value % 10 === 0 ? datum.label : ''",
                "tickOpacity": {"condition": {"test": "datum.value % 10 === 0", "value": 1}, "value": 0},
                "gridWidth": {"condition": {"test": "datum.value % 10 === 0", "value": 2}, "value": 1}
              }
            },
            "y": {
              "field": "neut", "type": "quantitative",
              "scale": {"type": "log", "domain": [2.36, 7.68], "nice": false, "zero": false},
              "axis": {
                "title": "Neutrophils (10⁹/L)", "titleFontSize": 24, "titlePadding": 20,
                "labelFontSize": 16, "labelPadding": 5, "tickSize": 6,
                "values": [3, 3.873, 5, 5.916, 7],
                "labelExpr": "(datum.value === 3 || datum.value === 5 || datum.value === 7) ? datum.label : ''",
                "tickOpacity": {"condition": {"test": "datum.value === 3 || datum.value === 5 || datum.value === 7", "value": 1}, "value": 0},
                "gridWidth": {"condition": {"test": "datum.value === 3 || datum.value === 5 || datum.value === 7", "value": 2}, "value": 1}
              }
            },
            "color": {
              "field": "resp", "type": "nominal",
              "scale": {"domain": ["CR + PR +PD", "PD"], "range": ["#00BFC4", "#F8766D"]},
              "legend": {
                "title": "Response", "orient": "none", "legendX": 791, "legendY": 155, "padding": 0,
                "symbolType": "M-1,0L1,0M-0.6,0A0.6,0.6 0 1 1 0.6,0A0.6,0.6 0 1 1 -0.6,0Z",
                "symbolSize": 49, "symbolStrokeWidth": 1,
                "encode": {"symbols": {"update": {"stroke": {"scale": "color", "field": "value"}}}}
              }
            },
            "detail": {"field": "pid"}
          },
          "layer": [
            {"mark": {"type": "line", "strokeWidth": 1.4, "opacity": 0.45, "clip": true}},
            {"mark": {"type": "point", "filled": true, "size": 15, "opacity": 1, "clip": true}}
          ]
        }
      ]
    },
    {
      "title": {"text": "Normalized by baseline value – early cycles", "fontSize": 19, "color": "#5B9BD5", "fontWeight": "normal", "offset": 22, "anchor": "middle", "dx": 15},
      "spacing": 7,
      "hconcat": [
        {
          "width": 12,
          "height": 317,
          "view": {"fill": null, "stroke": null},
          "data": {"values": [{"label": "neutrophils"}]},
          "mark": {"type": "text", "angle": 270, "fontSize": 9.5, "color": "#000000"},
          "encoding": {"text": {"field": "label"}}
        },
        {
          "spacing": -5,
          "hconcat": [
            {
              "spacing": 7,
              "vconcat": [
                {"width":96,"height":74,"data":{"name":"norm"},"transform":[{"filter":{"field":"id","equal":"10455"}}],
                 "encoding":{"x":{"field":"cycle","type":"ordinal","scale":{"type":"point","padding":0.6,"domain":["CYCLE 1","CYCLE 2","CYCLE 3","CYCLE 4","CYCLE 5"]},"axis":{"title":null,"grid":true,"gridWidth":1.1,"labels":false,"ticks":false}},
                             "y":{"field":"value","type":"quantitative","scale":{"domain":[0.46,1.94],"nice":false,"zero":false},"axis":{"title":null,"labelFontSize":8,"labelPadding":2,"tickSize":3,"format":".2f","values":[0.5,0.625,0.75,0.875,1,1.125,1.25,1.375,1.5],"labelExpr":"(datum.value * 4) % 1 === 0 ? datum.label : ''","tickOpacity":{"condition":{"test":"(datum.value * 4) % 1 === 0","value":1},"value":0},"gridWidth":{"condition":{"test":"(datum.value * 4) % 1 === 0","value":1.1},"value":0.5}}},
                             "color":{"field":"resp","type":"nominal"}},
                 "layer":[{"mark":{"type":"line","strokeWidth":1.1,"clip":true}},{"mark":{"type":"point","filled":true,"size":14,"opacity":1,"clip":true}},
                          {"mark":{"type":"rect","color":"#D9D9D9"},"encoding":{"x":null,"color":null,"y":{"datum":1.56},"y2":{"datum":1.94}}},
                          {"mark":{"type":"text","fontSize":8.5,"color":"#1A1A1A","opacity":0.5,"baseline":"middle"},"encoding":{"x":{"datum":"CYCLE 3"},"y":{"datum":1.75},"color":null,"text":{"field":"id"}}}]},
                {"width":96,"height":74,"data":{"name":"norm"},"transform":[{"filter":{"field":"id","equal":"12908"}}],
                 "encoding":{"x":{"field":"cycle","type":"ordinal","scale":{"type":"point","padding":0.6,"domain":["CYCLE 1","CYCLE 2","CYCLE 3","CYCLE 4","CYCLE 5"]},"axis":{"title":null,"grid":true,"gridWidth":1.1,"labels":false,"ticks":false}},
                             "y":{"field":"value","type":"quantitative","scale":{"domain":[0.46,1.94],"nice":false,"zero":false},"axis":{"title":null,"labelFontSize":8,"labelPadding":2,"tickSize":3,"format":".2f","values":[0.5,0.625,0.75,0.875,1,1.125,1.25,1.375,1.5],"labelExpr":"(datum.value * 4) % 1 === 0 ? datum.label : ''","tickOpacity":{"condition":{"test":"(datum.value * 4) % 1 === 0","value":1},"value":0},"gridWidth":{"condition":{"test":"(datum.value * 4) % 1 === 0","value":1.1},"value":0.5}}},
                             "color":{"field":"resp","type":"nominal"}},
                 "layer":[{"mark":{"type":"line","strokeWidth":1.1,"clip":true}},{"mark":{"type":"point","filled":true,"size":14,"opacity":1,"clip":true}},
                          {"mark":{"type":"rect","color":"#D9D9D9"},"encoding":{"x":null,"color":null,"y":{"datum":1.56},"y2":{"datum":1.94}}},
                          {"mark":{"type":"text","fontSize":8.5,"color":"#1A1A1A","opacity":0.5,"baseline":"middle"},"encoding":{"x":{"datum":"CYCLE 3"},"y":{"datum":1.75},"color":null,"text":{"field":"id"}}}]},
                {"width":96,"height":74,"data":{"name":"norm"},"transform":[{"filter":{"field":"id","equal":"14255"}}],
                 "encoding":{"x":{"field":"cycle","type":"ordinal","scale":{"type":"point","padding":0.6,"domain":["CYCLE 1","CYCLE 2","CYCLE 3","CYCLE 4","CYCLE 5"]},"axis":{"title":null,"grid":true,"gridWidth":1.1,"labels":false,"ticks":false}},
                             "y":{"field":"value","type":"quantitative","scale":{"domain":[0.46,1.94],"nice":false,"zero":false},"axis":{"title":null,"labelFontSize":8,"labelPadding":2,"tickSize":3,"format":".2f","values":[0.5,0.625,0.75,0.875,1,1.125,1.25,1.375,1.5],"labelExpr":"(datum.value * 4) % 1 === 0 ? datum.label : ''","tickOpacity":{"condition":{"test":"(datum.value * 4) % 1 === 0","value":1},"value":0},"gridWidth":{"condition":{"test":"(datum.value * 4) % 1 === 0","value":1.1},"value":0.5}}},
                             "color":{"field":"resp","type":"nominal"}},
                 "layer":[{"mark":{"type":"line","strokeWidth":1.1,"clip":true}},{"mark":{"type":"point","filled":true,"size":14,"opacity":1,"clip":true}},
                          {"mark":{"type":"rect","color":"#D9D9D9"},"encoding":{"x":null,"color":null,"y":{"datum":1.56},"y2":{"datum":1.94}}},
                          {"mark":{"type":"text","fontSize":8.5,"color":"#1A1A1A","opacity":0.5,"baseline":"middle"},"encoding":{"x":{"datum":"CYCLE 3"},"y":{"datum":1.75},"color":null,"text":{"field":"id"}}}]},
                {"width":96,"height":74,"data":{"name":"norm"},"transform":[{"filter":{"field":"id","equal":"35513"}}],
                 "encoding":{"x":{"field":"cycle","type":"ordinal","scale":{"type":"point","padding":0.6,"domain":["CYCLE 1","CYCLE 2","CYCLE 3","CYCLE 4","CYCLE 5"]},"axis":{"title":null,"grid":true,"gridWidth":1.1,"labelAngle":-45,"labelAlign":"right","labelBaseline":"top","labelFontSize":7.5,"labelPadding":2,"tickSize":3}},
                             "y":{"field":"value","type":"quantitative","scale":{"domain":[0.46,1.94],"nice":false,"zero":false},"axis":{"title":null,"labelFontSize":8,"labelPadding":2,"tickSize":3,"format":".2f","values":[0.5,0.625,0.75,0.875,1,1.125,1.25,1.375,1.5],"labelExpr":"(datum.value * 4) % 1 === 0 ? datum.label : ''","tickOpacity":{"condition":{"test":"(datum.value * 4) % 1 === 0","value":1},"value":0},"gridWidth":{"condition":{"test":"(datum.value * 4) % 1 === 0","value":1.1},"value":0.5}}},
                             "color":{"field":"resp","type":"nominal"}},
                 "layer":[{"mark":{"type":"line","strokeWidth":1.1,"clip":true}},{"mark":{"type":"point","filled":true,"size":14,"opacity":1,"clip":true}},
                          {"mark":{"type":"rect","color":"#D9D9D9"},"encoding":{"x":null,"color":null,"y":{"datum":1.56},"y2":{"datum":1.94}}},
                          {"mark":{"type":"text","fontSize":8.5,"color":"#1A1A1A","opacity":0.5,"baseline":"middle"},"encoding":{"x":{"datum":"CYCLE 3"},"y":{"datum":1.75},"color":null,"text":{"field":"id"}}}]}
              ]
            },
            {
              "spacing": 7,
              "vconcat": [
                {"width":96,"height":74,"data":{"name":"norm"},"transform":[{"filter":{"field":"id","equal":"10532"}}],
                 "encoding":{"x":{"field":"cycle","type":"ordinal","scale":{"type":"point","padding":0.6,"domain":["CYCLE 1","CYCLE 2","CYCLE 3","CYCLE 4","CYCLE 5"]},"axis":{"title":null,"grid":true,"gridWidth":1.1,"labels":false,"ticks":false}},
                             "y":{"field":"value","type":"quantitative","scale":{"domain":[0.46,1.94],"nice":false,"zero":false},"axis":{"title":null,"labels":false,"ticks":false,"values":[0.5,0.625,0.75,0.875,1,1.125,1.25,1.375,1.5],"gridWidth":{"condition":{"test":"(datum.value * 4) % 1 === 0","value":1.1},"value":0.5}}},
                             "color":{"field":"resp","type":"nominal"}},
                 "layer":[{"mark":{"type":"line","strokeWidth":1.1,"clip":true}},{"mark":{"type":"point","filled":true,"size":14,"opacity":1,"clip":true}},
                          {"mark":{"type":"rect","color":"#D9D9D9"},"encoding":{"x":null,"color":null,"y":{"datum":1.56},"y2":{"datum":1.94}}},
                          {"mark":{"type":"text","fontSize":8.5,"color":"#1A1A1A","opacity":0.5,"baseline":"middle"},"encoding":{"x":{"datum":"CYCLE 3"},"y":{"datum":1.75},"color":null,"text":{"field":"id"}}}]},
                {"width":96,"height":74,"data":{"name":"norm"},"transform":[{"filter":{"field":"id","equal":"13039"}}],
                 "encoding":{"x":{"field":"cycle","type":"ordinal","scale":{"type":"point","padding":0.6,"domain":["CYCLE 1","CYCLE 2","CYCLE 3","CYCLE 4","CYCLE 5"]},"axis":{"title":null,"grid":true,"gridWidth":1.1,"labels":false,"ticks":false}},
                             "y":{"field":"value","type":"quantitative","scale":{"domain":[0.46,1.94],"nice":false,"zero":false},"axis":{"title":null,"labels":false,"ticks":false,"values":[0.5,0.625,0.75,0.875,1,1.125,1.25,1.375,1.5],"gridWidth":{"condition":{"test":"(datum.value * 4) % 1 === 0","value":1.1},"value":0.5}}},
                             "color":{"field":"resp","type":"nominal"}},
                 "layer":[{"mark":{"type":"line","strokeWidth":1.1,"clip":true}},{"mark":{"type":"point","filled":true,"size":14,"opacity":1,"clip":true}},
                          {"mark":{"type":"rect","color":"#D9D9D9"},"encoding":{"x":null,"color":null,"y":{"datum":1.56},"y2":{"datum":1.94}}},
                          {"mark":{"type":"text","fontSize":8.5,"color":"#1A1A1A","opacity":0.5,"baseline":"middle"},"encoding":{"x":{"datum":"CYCLE 3"},"y":{"datum":1.75},"color":null,"text":{"field":"id"}}}]},
                {"width":96,"height":74,"data":{"name":"norm"},"transform":[{"filter":{"field":"id","equal":"15049"}}],
                 "encoding":{"x":{"field":"cycle","type":"ordinal","scale":{"type":"point","padding":0.6,"domain":["CYCLE 1","CYCLE 2","CYCLE 3","CYCLE 4","CYCLE 5"]},"axis":{"title":null,"grid":true,"gridWidth":1.1,"labels":false,"ticks":false}},
                             "y":{"field":"value","type":"quantitative","scale":{"domain":[0.46,1.94],"nice":false,"zero":false},"axis":{"title":null,"labels":false,"ticks":false,"values":[0.5,0.625,0.75,0.875,1,1.125,1.25,1.375,1.5],"gridWidth":{"condition":{"test":"(datum.value * 4) % 1 === 0","value":1.1},"value":0.5}}},
                             "color":{"field":"resp","type":"nominal"}},
                 "layer":[{"mark":{"type":"line","strokeWidth":1.1,"clip":true}},{"mark":{"type":"point","filled":true,"size":14,"opacity":1,"clip":true}},
                          {"mark":{"type":"rect","color":"#D9D9D9"},"encoding":{"x":null,"color":null,"y":{"datum":1.56},"y2":{"datum":1.94}}},
                          {"mark":{"type":"text","fontSize":8.5,"color":"#1A1A1A","opacity":0.5,"baseline":"middle"},"encoding":{"x":{"datum":"CYCLE 3"},"y":{"datum":1.75},"color":null,"text":{"field":"id"}}}]},
                {"width":96,"height":74,"data":{"name":"norm"},"transform":[{"filter":{"field":"id","equal":"40629"}}],
                 "encoding":{"x":{"field":"cycle","type":"ordinal","scale":{"type":"point","padding":0.6,"domain":["CYCLE 1","CYCLE 2","CYCLE 3","CYCLE 4","CYCLE 5"]},"axis":{"title":null,"grid":true,"gridWidth":1.1,"labelAngle":-45,"labelAlign":"right","labelBaseline":"top","labelFontSize":7.5,"labelPadding":2,"tickSize":3}},
                             "y":{"field":"value","type":"quantitative","scale":{"domain":[0.46,1.94],"nice":false,"zero":false},"axis":{"title":null,"labels":false,"ticks":false,"values":[0.5,0.625,0.75,0.875,1,1.125,1.25,1.375,1.5],"gridWidth":{"condition":{"test":"(datum.value * 4) % 1 === 0","value":1.1},"value":0.5}}},
                             "color":{"field":"resp","type":"nominal"}},
                 "layer":[{"mark":{"type":"line","strokeWidth":1.1,"clip":true}},{"mark":{"type":"point","filled":true,"size":14,"opacity":1,"clip":true}},
                          {"mark":{"type":"rect","color":"#D9D9D9"},"encoding":{"x":null,"color":null,"y":{"datum":1.56},"y2":{"datum":1.94}}},
                          {"mark":{"type":"text","fontSize":8.5,"color":"#1A1A1A","opacity":0.5,"baseline":"middle"},"encoding":{"x":{"datum":"CYCLE 3"},"y":{"datum":1.75},"color":null,"text":{"field":"id"}}}]}
              ]
            },
            {
              "spacing": 7,
              "vconcat": [
                {"width":96,"height":74,"data":{"name":"norm"},"transform":[{"filter":{"field":"id","equal":"11416"}}],
                 "encoding":{"x":{"field":"cycle","type":"ordinal","scale":{"type":"point","padding":0.6,"domain":["CYCLE 1","CYCLE 2","CYCLE 3","CYCLE 4","CYCLE 5"]},"axis":{"title":null,"grid":true,"gridWidth":1.1,"labels":false,"ticks":false}},
                             "y":{"field":"value","type":"quantitative","scale":{"domain":[0.46,1.94],"nice":false,"zero":false},"axis":{"title":null,"labels":false,"ticks":false,"values":[0.5,0.625,0.75,0.875,1,1.125,1.25,1.375,1.5],"gridWidth":{"condition":{"test":"(datum.value * 4) % 1 === 0","value":1.1},"value":0.5}}},
                             "color":{"field":"resp","type":"nominal"}},
                 "layer":[{"mark":{"type":"line","strokeWidth":1.1,"clip":true}},{"mark":{"type":"point","filled":true,"size":14,"opacity":1,"clip":true}},
                          {"mark":{"type":"rect","color":"#D9D9D9"},"encoding":{"x":null,"color":null,"y":{"datum":1.56},"y2":{"datum":1.94}}},
                          {"mark":{"type":"text","fontSize":8.5,"color":"#1A1A1A","opacity":0.5,"baseline":"middle"},"encoding":{"x":{"datum":"CYCLE 3"},"y":{"datum":1.75},"color":null,"text":{"field":"id"}}}]},
                {"width":96,"height":74,"data":{"name":"norm"},"transform":[{"filter":{"field":"id","equal":"13484"}}],
                 "encoding":{"x":{"field":"cycle","type":"ordinal","scale":{"type":"point","padding":0.6,"domain":["CYCLE 1","CYCLE 2","CYCLE 3","CYCLE 4","CYCLE 5"]},"axis":{"title":null,"grid":true,"gridWidth":1.1,"labels":false,"ticks":false}},
                             "y":{"field":"value","type":"quantitative","scale":{"domain":[0.46,1.94],"nice":false,"zero":false},"axis":{"title":null,"labels":false,"ticks":false,"values":[0.5,0.625,0.75,0.875,1,1.125,1.25,1.375,1.5],"gridWidth":{"condition":{"test":"(datum.value * 4) % 1 === 0","value":1.1},"value":0.5}}},
                             "color":{"field":"resp","type":"nominal"}},
                 "layer":[{"mark":{"type":"line","strokeWidth":1.1,"clip":true}},{"mark":{"type":"point","filled":true,"size":14,"opacity":1,"clip":true}},
                          {"mark":{"type":"rect","color":"#D9D9D9"},"encoding":{"x":null,"color":null,"y":{"datum":1.56},"y2":{"datum":1.94}}},
                          {"mark":{"type":"text","fontSize":8.5,"color":"#1A1A1A","opacity":0.5,"baseline":"middle"},"encoding":{"x":{"datum":"CYCLE 3"},"y":{"datum":1.75},"color":null,"text":{"field":"id"}}}]},
                {"width":96,"height":74,"data":{"name":"norm"},"transform":[{"filter":{"field":"id","equal":"15103"}}],
                 "encoding":{"x":{"field":"cycle","type":"ordinal","scale":{"type":"point","padding":0.6,"domain":["CYCLE 1","CYCLE 2","CYCLE 3","CYCLE 4","CYCLE 5"]},"axis":{"title":null,"grid":true,"gridWidth":1.1,"labelAngle":-45,"labelAlign":"right","labelBaseline":"top","labelFontSize":7.5,"labelPadding":2,"tickSize":3}},
                             "y":{"field":"value","type":"quantitative","scale":{"domain":[0.46,1.94],"nice":false,"zero":false},"axis":{"title":null,"labels":false,"ticks":false,"values":[0.5,0.625,0.75,0.875,1,1.125,1.25,1.375,1.5],"gridWidth":{"condition":{"test":"(datum.value * 4) % 1 === 0","value":1.1},"value":0.5}}},
                             "color":{"field":"resp","type":"nominal"}},
                 "layer":[{"mark":{"type":"line","strokeWidth":1.1,"clip":true}},{"mark":{"type":"point","filled":true,"size":14,"opacity":1,"clip":true}},
                          {"mark":{"type":"rect","color":"#D9D9D9"},"encoding":{"x":null,"color":null,"y":{"datum":1.56},"y2":{"datum":1.94}}},
                          {"mark":{"type":"text","fontSize":8.5,"color":"#1A1A1A","opacity":0.5,"baseline":"middle"},"encoding":{"x":{"datum":"CYCLE 3"},"y":{"datum":1.75},"color":null,"text":{"field":"id"}}}]}
              ]
            },
            {
              "spacing": 7,
              "vconcat": [
                {"width":96,"height":74,"data":{"name":"norm"},"transform":[{"filter":{"field":"id","equal":"12866"}}],
                 "encoding":{"x":{"field":"cycle","type":"ordinal","scale":{"type":"point","padding":0.6,"domain":["CYCLE 1","CYCLE 2","CYCLE 3","CYCLE 4","CYCLE 5"]},"axis":{"title":null,"grid":true,"gridWidth":1.1,"labels":false,"ticks":false}},
                             "y":{"field":"value","type":"quantitative","scale":{"domain":[0.46,1.94],"nice":false,"zero":false},"axis":{"title":null,"labels":false,"ticks":false,"values":[0.5,0.625,0.75,0.875,1,1.125,1.25,1.375,1.5],"gridWidth":{"condition":{"test":"(datum.value * 4) % 1 === 0","value":1.1},"value":0.5}}},
                             "color":{"field":"resp","type":"nominal"}},
                 "layer":[{"mark":{"type":"line","strokeWidth":1.1,"clip":true}},{"mark":{"type":"point","filled":true,"size":14,"opacity":1,"clip":true}},
                          {"mark":{"type":"rect","color":"#D9D9D9"},"encoding":{"x":null,"color":null,"y":{"datum":1.56},"y2":{"datum":1.94}}},
                          {"mark":{"type":"text","fontSize":8.5,"color":"#1A1A1A","opacity":0.5,"baseline":"middle"},"encoding":{"x":{"datum":"CYCLE 3"},"y":{"datum":1.75},"color":null,"text":{"field":"id"}}}]},
                {"width":96,"height":74,"data":{"name":"norm"},"transform":[{"filter":{"field":"id","equal":"13579"}}],
                 "encoding":{"x":{"field":"cycle","type":"ordinal","scale":{"type":"point","padding":0.6,"domain":["CYCLE 1","CYCLE 2","CYCLE 3","CYCLE 4","CYCLE 5"]},"axis":{"title":null,"grid":true,"gridWidth":1.1,"labels":false,"ticks":false}},
                             "y":{"field":"value","type":"quantitative","scale":{"domain":[0.46,1.94],"nice":false,"zero":false},"axis":{"title":null,"labels":false,"ticks":false,"values":[0.5,0.625,0.75,0.875,1,1.125,1.25,1.375,1.5],"gridWidth":{"condition":{"test":"(datum.value * 4) % 1 === 0","value":1.1},"value":0.5}}},
                             "color":{"field":"resp","type":"nominal"}},
                 "layer":[{"mark":{"type":"line","strokeWidth":1.1,"clip":true}},{"mark":{"type":"point","filled":true,"size":14,"opacity":1,"clip":true}},
                          {"mark":{"type":"rect","color":"#D9D9D9"},"encoding":{"x":null,"color":null,"y":{"datum":1.56},"y2":{"datum":1.94}}},
                          {"mark":{"type":"text","fontSize":8.5,"color":"#1A1A1A","opacity":0.5,"baseline":"middle"},"encoding":{"x":{"datum":"CYCLE 3"},"y":{"datum":1.75},"color":null,"text":{"field":"id"}}}]},
                {"width":96,"height":74,"data":{"name":"norm"},"transform":[{"filter":{"field":"id","equal":"32066"}}],
                 "encoding":{"x":{"field":"cycle","type":"ordinal","scale":{"type":"point","padding":0.6,"domain":["CYCLE 1","CYCLE 2","CYCLE 3","CYCLE 4","CYCLE 5"]},"axis":{"title":null,"grid":true,"gridWidth":1.1,"labelAngle":-45,"labelAlign":"right","labelBaseline":"top","labelFontSize":7.5,"labelPadding":2,"tickSize":3}},
                             "y":{"field":"value","type":"quantitative","scale":{"domain":[0.46,1.94],"nice":false,"zero":false},"axis":{"title":null,"labels":false,"ticks":false,"values":[0.5,0.625,0.75,0.875,1,1.125,1.25,1.375,1.5],"gridWidth":{"condition":{"test":"(datum.value * 4) % 1 === 0","value":1.1},"value":0.5}}},
                             "color":{"field":"resp","type":"nominal"}},
                 "layer":[{"mark":{"type":"line","strokeWidth":1.1,"clip":true}},{"mark":{"type":"point","filled":true,"size":14,"opacity":1,"clip":true}},
                          {"mark":{"type":"rect","color":"#D9D9D9"},"encoding":{"x":null,"color":null,"y":{"datum":1.56},"y2":{"datum":1.94}}},
                          {"mark":{"type":"text","fontSize":8.5,"color":"#1A1A1A","opacity":0.5,"baseline":"middle"},"encoding":{"x":{"datum":"CYCLE 3"},"y":{"datum":1.75},"color":null,"text":{"field":"id"}}}]}
              ]
            }
          ]
        }
      ]
    }
  ],
  "config": {
    "font": "Liberation Sans",
    "view": {"stroke": null, "fill": "#EBEBEB"},
    "axis": {"domain": false, "gridColor": "#FFFFFF", "tickColor": "#333333", "labelColor": "#4D4D4D", "titleColor": "#000000", "titleFontWeight": "normal"},
    "legend": {"titleFontSize": 8, "titleFontWeight": "normal", "labelFontSize": 7, "rowPadding": 0, "titlePadding": 2, "labelColor": "#1A1A1A", "titleColor": "#000000"},
    "title": {"fontWeight": "normal"}
  }
}
